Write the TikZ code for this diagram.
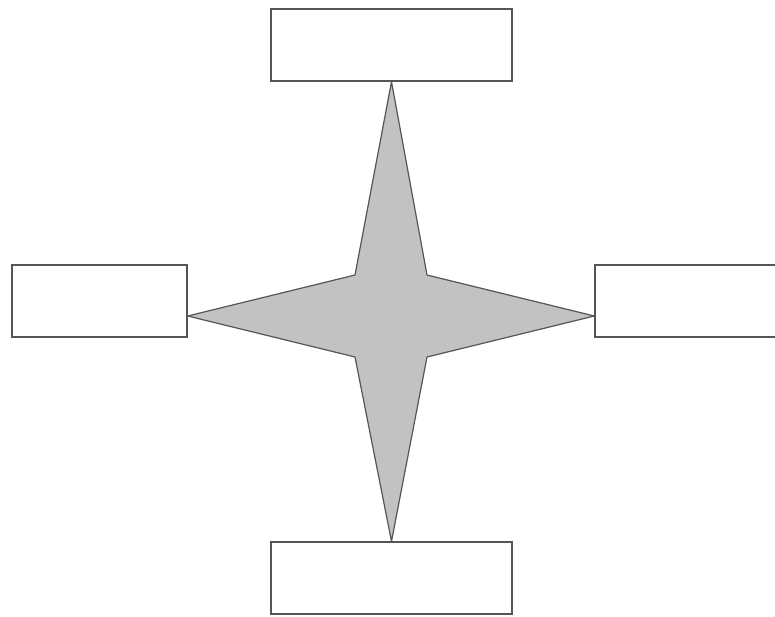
\documentclass[tikz,border=0pt]{standalone}
\definecolor{edgegray}{RGB}{85,85,85}
\definecolor{stargray}{RGB}{194,194,194}
\tikzset{
    box/.style = {draw = edgegray, line width = 1.4pt, fill = white, inner sep = 0pt, minimum height = 72pt},
}
\begin{document}
\begin{tikzpicture}[x = 1pt, y = -1pt]
        \useasboundingbox (0,0) rectangle (775,616);
        \clip (0,0) rectangle (775,616);
        \node[box, minimum width = 241pt] (top) at (391.5,45) {};
        \node[box, minimum width = 241pt] (bottom) at (391.5,578) {};
        \node[box, minimum width = 175pt] (left) at (99.5,301) {};
        \node[box, minimum width = 200pt] (right) at (695,301) {};
        \coordinate (ne) at (427,275);
        \coordinate (se) at (427,357);
        \coordinate (sw) at (355,357);
        \coordinate (nw) at (355,275);
        \draw[edgegray, fill = stargray, line width = 1.2pt, line join = round]
            (top.south) -- (ne) -- (right.west |- 0,316) -- (se) -- (bottom.north)
            -- (sw) -- (left.east |- 0,316) -- (nw) -- cycle;
    \end{tikzpicture}
\end{document}
